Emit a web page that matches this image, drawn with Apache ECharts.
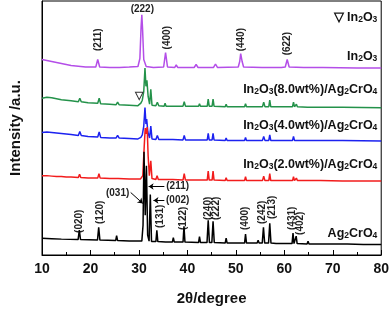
<!DOCTYPE html>
<html><head><meta charset="utf-8">
<script src="https://cdn.jsdelivr.net/npm/echarts@6/dist/echarts.min.js"></script>
<style>html,body{margin:0;padding:0;background:#fff}#c{width:392px;height:311px}</style>
</head><body><div id="c"></div>
<script>
// XRD patterns: [2theta, intensity (stacked, a.u.)]
const in2o3 = [[10,197],[11,196],[12,195],[13,194],[14,193],[15,192],[16,191],[17,190.5],[18,190],[19,189.5],[21.1,189.5],[21.5,197],[21.9,189.5],[24,189],[26,189],[28,189.5],[29.8,190],[30.2,198],[30.45,230],[30.6,242],[30.75,228],[31.0,197],[31.5,190],[33,189],[35.1,189.5],[35.5,204],[35.9,189.5],[37.4,189],[37.7,191.5],[38,189],[41.4,189],[41.8,192],[42.2,189],[45.4,189],[45.8,192.5],[46.2,189],[50.5,189.5],[50.8,195],[51.0,203],[51.3,195],[51.6,189.5],[55.4,189],[55.8,191],[56.2,189],[58.8,189],[59.1,190.5],[59.4,189],[60.2,189.5],[60.6,197],[61.0,189.5],[64,189],[68,189],[75,188.5],[80,188.5]];
const comp8 = [[10,158],[11,159],[12,158.5],[13,157.5],[14,156.5],[15,156],[16,155.5],[17.5,154.5],[17.8,158],[18.1,154.5],[19.5,153.5],[21.5,153],[21.8,158],[22.1,152.5],[24,152],[25.3,151.5],[25.6,154],[25.9,151.5],[28,151],[29.8,150.5],[30.4,153],[30.7,156],[31.0,165],[31.25,188.5],[31.45,170],[31.65,176],[31.9,160],[32.2,152],[32.45,167],[32.7,151],[33.5,150.5],[33.8,154],[34.1,150.5],[35.2,150],[35.4,153],[35.6,150],[37,150],[37.15,152],[37.3,150],[39.1,150],[39.35,154.5],[39.6,150],[42.3,150],[42.5,152.5],[42.7,150],[44.1,150],[44.3,157],[44.5,150],[45.1,150],[45.3,157],[45.5,150],[47.8,149.5],[48,152],[48.2,149.5],[51.8,149.5],[52.0,152.5],[52.2,149.5],[54.5,149.5],[54.7,151.5],[54.9,149.5],[55.5,149.5],[55.75,154],[56.0,149.5],[56.8,149.5],[57.0,156],[57.2,149.5],[61.7,149.5],[61.9,154],[62.1,149.5],[62.3,149.5],[62.5,152],[62.7,149.5],[64.8,149],[65,151],[65.2,149],[67.5,149],[67.7,150.5],[67.9,149],[72,149],[80,148.5]];
const comp4 = [[10,123.5],[11,124],[12,123.5],[13,123],[14,122.5],[15,122],[16,121.5],[17.5,120.5],[17.8,124.5],[18.1,120.5],[19.5,119.5],[21.5,119],[21.8,124],[22.1,118.5],[24,118],[25.3,118],[25.6,120.5],[25.9,118],[28,117.5],[29.8,117],[30.4,118.5],[30.7,121],[31.0,130],[31.25,148.5],[31.45,132],[31.6,137],[31.85,124],[32.2,118],[32.45,130],[32.7,117],[33.5,116.5],[33.8,120.5],[34.1,116.5],[35.2,116.5],[35.4,118.5],[35.6,116.5],[37,116.5],[37.15,118],[37.3,116.5],[39.1,116],[39.35,120.5],[39.6,116],[42.3,116],[42.5,118],[42.7,116],[44.1,116],[44.3,122.5],[44.5,116],[45.1,116],[45.3,122.5],[45.5,116],[47.8,115.5],[48,118],[48.2,115.5],[51.8,115.5],[52.0,118.5],[52.2,115.5],[54.5,115.5],[54.7,117.5],[54.9,115.5],[55.5,115.5],[55.75,119.5],[56.0,115.5],[56.8,115.5],[57.0,121],[57.2,115.5],[61.7,115.5],[61.9,119.5],[62.1,115.5],[62.3,115.5],[62.5,117.5],[62.7,115.5],[64.8,115.5],[65,117],[65.2,115.5],[67.5,115.5],[67.7,117],[67.9,115.5],[72,115.5],[80,115]];
const comp2 = [[10,80],[11,80],[12,79.5],[13,79],[14,79],[15,78.5],[16,78.5],[17.5,78],[17.75,81.5],[18.0,78],[19.5,77.5],[21.5,77.5],[21.75,82],[22.0,77.5],[24,77],[25.2,77],[25.45,79],[25.7,77],[28,76.5],[30.3,76.5],[30.8,80],[31.1,110],[31.3,128],[31.5,122],[31.7,129],[31.9,100],[32.15,80],[32.45,95],[32.7,77],[33.5,76],[33.75,80],[34.0,76],[35.4,76],[35.6,78],[35.8,76],[37,76],[37.15,78],[37.3,76],[39.1,75.5],[39.35,82],[39.6,75.5],[42.3,75.5],[42.5,77.5],[42.7,75.5],[44.1,75.5],[44.3,84.5],[44.5,75.5],[45.1,75.5],[45.3,84.5],[45.5,75.5],[47.8,75],[48,78],[48.2,75],[51.8,75],[52.0,79],[52.2,75],[54.5,75],[54.7,77],[54.9,75],[55.5,75],[55.75,79.5],[56.0,75],[56.8,75],[57.0,82],[57.2,75],[61.7,75],[61.9,79],[62.1,75],[62.3,75],[62.5,77.5],[62.7,75],[64.8,75],[65,76.5],[65.2,75],[67.5,75],[67.7,76.5],[67.9,75],[72,74.5],[80,74.5]];
const ag2cro4 = [[10,17],[12,16.5],[14,16],[17.45,15.5],[17.7,25],[17.95,15.5],[21.45,15],[21.7,28],[21.95,15],[25.2,14.5],[25.4,19.5],[25.6,14.5],[28,14],[30.6,14],[30.85,30],[31.05,104],[31.3,40],[31.55,90],[31.8,20],[32.1,14],[32.35,61],[32.6,13.5],[33.5,13.5],[33.7,25],[33.9,13.5],[35.5,13],[35.7,15],[35.9,13],[36.9,13],[37.1,17.5],[37.3,13],[39.1,13],[39.3,29],[39.5,13],[42.3,12.5],[42.5,18.5],[42.7,12.5],[44.05,12.5],[44.3,35],[44.55,12.5],[45.05,12.5],[45.3,34],[45.55,12.5],[47.8,12],[48,17],[48.2,12],[49.8,12],[50,14],[50.2,12],[51.8,12],[52,21],[52.2,12],[54.4,12],[54.6,15],[54.8,12],[55.45,12],[55.7,28],[55.95,12],[56.75,12],[57,32],[57.25,12],[58.3,11.5],[58.5,13.5],[58.7,11.5],[61.6,11.5],[61.8,22],[62.0,11.5],[62.2,11.5],[62.45,19],[62.65,11.5],[64.7,11],[64.9,14],[65.1,11],[66.3,11],[66.5,13],[66.7,11],[67.4,11],[67.6,13],[67.8,11],[73,11],[73.2,12.5],[73.4,11],[76.3,10.5],[76.5,12.5],[76.7,10.5],[80,10.5]];

// peak index labels: [text, 2theta, height]
const in2o3Hkl = [['(211)',21.6,217],['(400)',35.8,219],['(440)',51.2,217],['(622)',60.7,213]];
const in2o3TopHkl = [['(222)',30.7,248]];
const agHkl = [['(020)',17.7,34],['(120)',22.0,43],['(131)',34.3,39],['(122)',39.2,37],['(240)',44.3,47],['(222)',45.9,47],['(400)',52.0,37],['(242)',55.4,43],['(213)',57.6,48],['(431)',61.7,37],['(402)',63.35,32]];
const agArrowHkl = [['(031)',25.6,62],['(211)',38.0,69],['(002)',38.0,55]];
const agArrows = [[[28.3,63],[30.8,52]],[[35.25,69],[32.0,69]],[[35.25,55],[33.0,55]]];
const seriesNames = ['In2O3','In2O3(8.0wt%)/Ag2CrO4','In2O3(4.0wt%)/Ag2CrO4','In2O3(2.0wt%)/Ag2CrO4','Ag2CrO4'];
const seriesNamePos = [[79.2,200],[79.2,167],[79.2,130],[79.2,91],[79.2,22]];
const legendText = '▽ In2O3';
const legendPos = [79.2,239.5];
const markerPos = [30.1,160];

const FONT = '"Liberation Sans", Arial, sans-serif';
const colors = ['#b44ee8','#24924a','#1c22f0','#f21c1c','#000000'];
const sub = s => s.replace(/([A-Za-z])(\d)/g, '$1{s|$2}');
const rich = {s:{fontSize:8.5,fontWeight:'bold',fontFamily:FONT,verticalAlign:'bottom',color:'#111'}};

function nameMark(i){
  return {coord: seriesNamePos[i], label:{formatter: sub(seriesNames[i])}};
}
function rotMarks(arr){
  return arr.map(a => ({coord:[a[1],a[2]], label:{formatter:a[0], rotate:90, position:'inside'}}));
}
const baseMarkLabel = {show:true, position:'left', distance:0, color:'#111', fontSize:12.5, fontWeight:'bold', fontFamily:FONT, rich:rich};
const hklLabelStyle = {show:true, position:'inside', color:'#222', fontSize:10, fontFamily:FONT};

const datasets = [in2o3, comp8, comp4, comp2, ag2cro4];
const series = datasets.map((d,i) => ({
  type:'line', data:d, showSymbol:false, symbol:'none', silent:true,
  lineStyle:{color:colors[i], width:1.5}, z: 2+i,
  markPoint:{symbol:'circle', symbolSize:0, silent:true, label:baseMarkLabel, data:[nameMark(i)]}
}));
// extra annotations
series[0].markPoint.data.push({coord:legendPos, label:{formatter: sub(legendText)}});
series[0].markPoint.data.push(...rotMarks(in2o3Hkl).map(m=>{m.label=Object.assign({},hklLabelStyle,m.label);return m;}));
series[0].markPoint.data.push(...in2o3TopHkl.map(a=>({coord:[a[1],a[2]],label:Object.assign({},hklLabelStyle,{formatter:a[0]})})));
series[1].markPoint.data.push({coord:markerPos, label:Object.assign({},hklLabelStyle,{formatter:'▽',fontSize:11,color:'#333'})});
series[4].markPoint.data.push(...rotMarks(agHkl).map(m=>{m.label=Object.assign({},hklLabelStyle,m.label);return m;}));
series[4].markPoint.data.push(...agArrowHkl.map(a=>({coord:[a[1],a[2]],label:Object.assign({},hklLabelStyle,{formatter:a[0]})})));
series[4].markLine = {silent:true, symbol:['none','arrow'], symbolSize:5, label:{show:false},
  lineStyle:{color:'#000', width:1, type:'solid'},
  data: agArrows.map(a => [{coord:a[0]},{coord:a[1]}])};

const chart = echarts.init(document.getElementById('c'), null, {renderer:'canvas'});
chart.setOption({
  animation:false,
  grid:{left:37, right:10, top:1, bottom:54, show:true, borderColor:'#000', borderWidth:1},
  xAxis:{type:'value', min:10, max:80, interval:10,
    name:'2θ/degree', nameLocation:'middle', nameGap:36,
    nameTextStyle:{fontSize:15, fontWeight:'bold', fontFamily:FONT, color:'#111'},
    axisLine:{lineStyle:{color:'#000', width:1}},
    axisTick:{inside:true, length:5, lineStyle:{color:'#000'}},
    minorTick:{show:true, splitNumber:2, length:3, lineStyle:{color:'#000'}},
    axisLabel:{fontSize:14, fontWeight:'bold', fontFamily:FONT, color:'#111', margin:7},
    splitLine:{show:false}},
  yAxis:{type:'value', min:0, max:256,
    name:'Intensity /a.u.', nameLocation:'middle', nameGap:19, nameRotate:90,
    nameTextStyle:{fontSize:15, fontWeight:'bold', fontFamily:FONT, color:'#111'},
    axisLine:{show:true, lineStyle:{color:'#000'}}, axisTick:{show:false}, axisLabel:{show:false}, splitLine:{show:false}},
  series: series
});
</script></body></html>
